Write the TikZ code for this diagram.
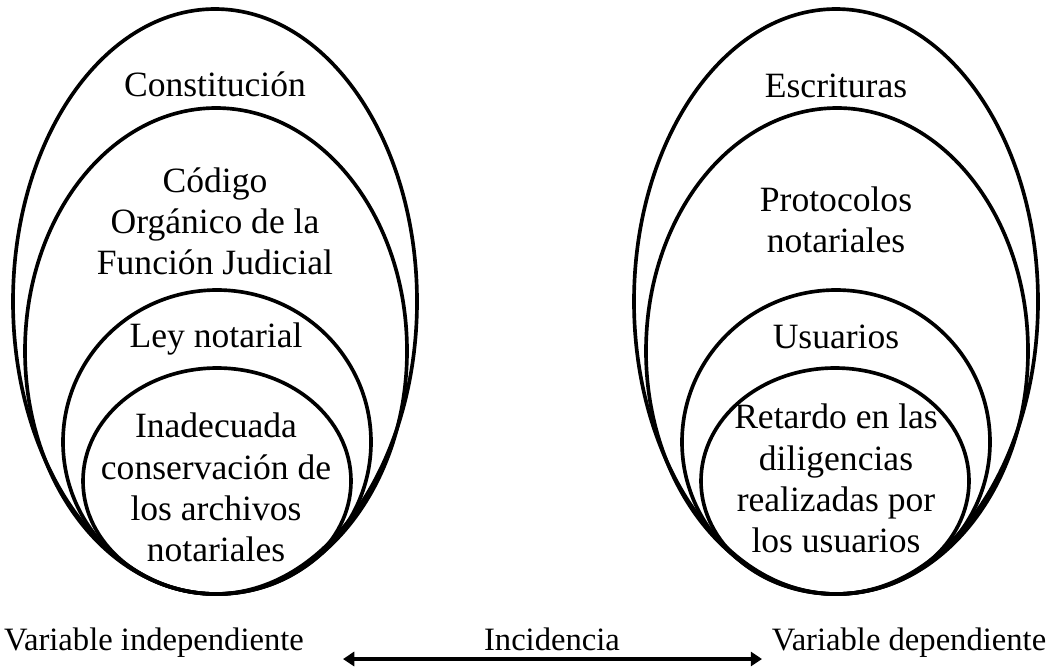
\documentclass[tikz,border=0pt]{standalone}
\usepackage{fontspec}
\setmainfont{Liberation Serif}
\usetikzlibrary{arrows.meta}
\usepackage{xcolor}

\begin{document}
\begin{tikzpicture}[x=0.025cm, y=-0.025cm]
 \tikzstyle{every node}=[inner sep=0pt, align=center,
                       font=\fontsize{25.3}{29.3}\selectfont]
 \tikzstyle{oval}=[line width=2.6pt]
 \tikzstyle{pie}=[font=\fontsize{23.2}{27}\selectfont]

        \useasboundingbox (0,0) rectangle (1051,666);

        % variable independiente
        \draw[oval] (215,301.5) ellipse [x radius=202, y radius=292.5];
        \draw[oval] (216,351) ellipse [x radius=191, y radius=243];
        \draw[oval] (217,442) ellipse [x radius=154, y radius=152];
        \draw[oval] (217,481) ellipse [x radius=134, y radius=113];

        \node[anchor=base] (cons) at (215,96) {Constitución};
        \node (cod) at (215,221) {Código\\Orgánico de la\\Función Judicial};
        \node[anchor=base] (ley) at (216,347) {Ley notarial};
        \node (inad) at (216,487.5) {Inadecuada\\conservación de\\los archivos\\notariales};

        % variable dependiente
        \draw[oval] (836,301.5) ellipse [x radius=202, y radius=292.5];
        \draw[oval] (837,351) ellipse [x radius=191, y radius=243];
        \draw[oval] (836,442) ellipse [x radius=154, y radius=152];
        \draw[oval] (835,481) ellipse [x radius=134, y radius=113];

        \node[anchor=base] (escr) at (836,97) {Escrituras};
        \node (prot) at (836,220) {Protocolos\\notariales};
        \node[anchor=base] (usu) at (836,348) {Usuarios};
        \node (ret) at (836,478.5) {Retardo en las\\diligencias\\realizadas por\\los usuarios};

        \node[pie, anchor=base] (vind) at (154,650) {Variable independiente};
        \node[pie, anchor=base] (inc) at (552,650) {Incidencia};
        \node[pie, anchor=base] (vdep) at (909,650) {Variable dependiente};

        \coordinate (incL) at (343,659);
        \coordinate (incR) at (762,659);
        \draw[line width=2.2pt, {Triangle[length=8pt, width=10pt]}-{Triangle[length=8pt, width=10pt]}]
    (incL) -- (incR);

\end{tikzpicture}
\end{document}
